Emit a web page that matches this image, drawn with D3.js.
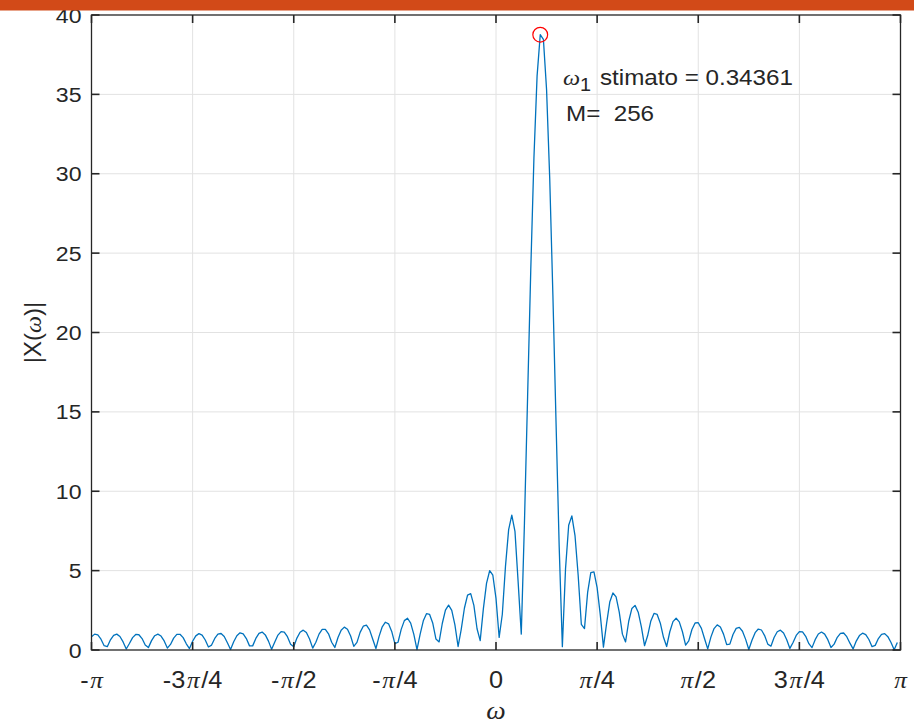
<!DOCTYPE html>
<html>
<head>
<meta charset="utf-8">
<script src="https://cdn.jsdelivr.net/npm/d3@7"></script>
<style>
body { margin: 0; background: #fff; }
svg text { font-family: "Liberation Sans", Arial, Helvetica, sans-serif; fill: #262626; }
.greek { font-family: "Liberation Serif", "DejaVu Serif", serif; font-style: italic; }
</style>
</head>
<body>
<svg id="chart" width="914" height="725"></svg>
<script>
// Number of DFT bins, the spectrum goes from -pi to pi
var M = 256;

// |X(omega)|, one value per bin (k = -128 ... 127)
var magnitude = [
    0.83, 1.00, 0.95, 0.68, 0.27, 0.21, 0.64, 0.92, 1.00, 0.85, 0.51, 0.06, 0.41, 0.78, 0.98, 0.96,
    0.72, 0.32, 0.15, 0.59, 0.90, 1.00, 0.88, 0.57, 0.12, 0.35, 0.75, 0.98, 0.99, 0.78, 0.39, 0.09,
    0.55, 0.89, 1.03, 0.94, 0.63, 0.19, 0.31, 0.73, 1.00, 1.04, 0.85, 0.46, 0.03, 0.52, 0.90, 1.08,
    1.02, 0.72, 0.26, 0.26, 0.73, 1.05, 1.13, 0.95, 0.56, 0.04, 0.50, 0.94, 1.16, 1.13, 0.84, 0.36,
    0.21, 0.75, 1.12, 1.25, 1.10, 0.69, 0.12, 0.49, 1.00, 1.30, 1.30, 1.02, 0.49, 0.16, 0.79, 1.25,
    1.44, 1.31, 0.88, 0.23, 0.48, 1.11, 1.50, 1.56, 1.27, 0.68, 0.09, 0.86, 1.46, 1.75, 1.65, 1.17,
    0.40, 0.49, 1.30, 1.85, 2.00, 1.69, 0.98, 0.02, 1.00, 1.84, 2.29, 2.24, 1.68, 0.69, 0.51, 1.67,
    2.51, 2.83, 2.50, 1.58, 0.22, 1.30, 2.63, 3.46, 3.55, 2.81, 1.34, 0.59, 2.59, 4.20, 5.00, 4.71,
    3.25, 0.79, 2.25, 5.27, 7.58, 8.49, 7.48, 4.30, 1.00, 7.99, 15.95, 23.93, 30.97, 36.15, 38.76, 38.47,
    35.31, 29.70, 22.38, 14.32, 6.48, 0.21, 5.11, 7.86, 8.45, 7.21, 4.71, 1.62, 1.35, 3.63, 4.87, 4.92,
    3.93, 2.21, 0.18, 1.68, 3.02, 3.59, 3.35, 2.39, 1.00, 0.51, 1.81, 2.62, 2.81, 2.38, 1.46, 0.27,
    0.91, 1.83, 2.30, 2.24, 1.69, 0.80, 0.22, 1.15, 1.79, 2.00, 1.77, 1.15, 0.31, 0.57, 1.29, 1.70,
    1.72, 1.36, 0.71, 0.07, 0.81, 1.35, 1.58, 1.45, 1.00, 0.34, 0.37, 0.98, 1.36, 1.43, 1.18, 0.67,
    0.03, 0.61, 1.09, 1.32, 1.26, 0.91, 0.37, 0.24, 0.79, 1.15, 1.25, 1.07, 0.65, 0.10, 0.47, 0.92,
    1.16, 1.14, 0.86, 0.40, 0.15, 0.65, 1.01, 1.13, 1.00, 0.65, 0.16, 0.37, 0.80, 1.05, 1.07, 0.84,
    0.43, 0.07, 0.56, 0.91, 1.06, 0.97, 0.66, 0.21, 0.29, 0.72, 0.98, 1.03, 0.84, 0.47, 0.01, 0.48
];

// Axis ticks
var xTickFractions = [-1, -0.75, -0.5, -0.25, 0, 0.25, 0.5, 0.75, 1];
var xTickLabels = ["-π", "-3π/4", "-π/2", "-π/4", "0", "π/4", "π/2", "3π/4", "π"];
var yTicks = [0, 5, 10, 15, 20, 25, 30, 35, 40];

// Estimated peak shown in the annotation
var omegaEstimate = 0.34361;
var peakLabel = "stimato = 0.34361";
var sizeLabel = "M=  256";


//==========================================================================
// Scales and containers.

var margin = { top: 15, right: 13.5, bottom: 75, left: 91.5 };
var width = 914 - margin.left - margin.right;
var height = 725 - margin.top - margin.bottom;

// The text in the figure is a little wider than plain Arial
var stretch = 1.1;

var svg = d3.select("#chart");

var chart = svg.append("g")
    .attr("transform", "translate(" + margin.left + "," + margin.top + ")");

var xScale = d3.scaleLinear()
    .domain([-Math.PI, Math.PI])
    .range([0, width]);

var yScale = d3.scaleLinear()
    .domain([0, 40])
    .range([height, 0]);

var bins = d3.range(M).map(function(i) {
    return { w: -Math.PI + 2 * Math.PI * i / M, mag: magnitude[i] };
});

var axisColor = "#262626";
var tickLen = 8;

function placeText(parent, x, y) {
    return parent.append("text")
        .attr("transform", "translate(" + x + "," + y + ") scale(" + stretch + ",1)");
}


//==========================================================================
// Grid.

chart.append("g")
    .selectAll("line")
    .data(xTickFractions.slice(1, -1))
    .enter()
    .append("line")
    .attr("x1", function(d) { return xScale(d * Math.PI); })
    .attr("x2", function(d) { return xScale(d * Math.PI); })
    .attr("y1", 0)
    .attr("y2", height)
    .attr("stroke", "#e2e2e2")
    .attr("stroke-width", 1);

chart.append("g")
    .selectAll("line")
    .data(yTicks.slice(1, -1))
    .enter()
    .append("line")
    .attr("x1", 0)
    .attr("x2", width)
    .attr("y1", function(d) { return yScale(d); })
    .attr("y2", function(d) { return yScale(d); })
    .attr("stroke", "#e2e2e2")
    .attr("stroke-width", 1);


//==========================================================================
// Spectrum line and peak marker.

var line = d3.line()
    .x(function(d) { return xScale(d.w); })
    .y(function(d) { return yScale(d.mag); });

chart.append("path")
    .datum(bins)
    .attr("d", line)
    .attr("fill", "none")
    .attr("stroke", "#0072bd")
    .attr("stroke-width", 1.3)
    .attr("stroke-linejoin", "round");

chart.append("circle")
    .attr("cx", xScale(omegaEstimate))
    .attr("cy", yScale(d3.max(magnitude)))
    .attr("r", 7.4)
    .attr("fill", "none")
    .attr("stroke", "#ff0000")
    .attr("stroke-width", 1.2);


//==========================================================================
// Box, ticks and tick labels.

chart.append("rect")
    .attr("x", 0)
    .attr("y", 0)
    .attr("width", width)
    .attr("height", height)
    .attr("fill", "none")
    .attr("stroke", axisColor)
    .attr("stroke-width", 1.3);

var xTicksG = chart.append("g");
xTickFractions.forEach(function(f) {
    var x = xScale(f * Math.PI);
    xTicksG.append("line")
        .attr("x1", x).attr("x2", x)
        .attr("y1", height).attr("y2", height - tickLen)
        .attr("stroke", axisColor).attr("stroke-width", 1.6);
    xTicksG.append("line")
        .attr("x1", x).attr("x2", x)
        .attr("y1", 0).attr("y2", tickLen)
        .attr("stroke", axisColor).attr("stroke-width", 1.6);
});

var yTicksG = chart.append("g");
yTicks.forEach(function(v) {
    var y = yScale(v);
    yTicksG.append("line")
        .attr("x1", 0).attr("x2", tickLen)
        .attr("y1", y).attr("y2", y)
        .attr("stroke", axisColor).attr("stroke-width", 1.6);
    yTicksG.append("line")
        .attr("x1", width).attr("x2", width - tickLen)
        .attr("y1", y).attr("y2", y)
        .attr("stroke", axisColor).attr("stroke-width", 1.6);
});

// x tick labels: the pi glyph is drawn in a serif italic face with a bit of room
xTickLabels.forEach(function(label, i) {
    var t = placeText(chart, xScale(xTickFractions[i] * Math.PI), height + 38)
        .attr("text-anchor", "middle")
        .style("font-size", "23px");
    var parts = label.split("π");
    parts.forEach(function(p, j) {
        if (p) t.append("tspan").attr("dx", j > 0 ? 1.5 : 0).text(p);
        if (j < parts.length - 1) {
            t.append("tspan").attr("class", "greek").attr("dx", p ? 1.5 : 0).text("π");
        }
    });
});

yTicks.forEach(function(v) {
    placeText(chart, -10, yScale(v))
        .attr("dy", "0.36em")
        .attr("text-anchor", "end")
        .style("font-size", "21px")
        .text(v);
});


//==========================================================================
// Axis titles and annotation.

placeText(svg, margin.left + xScale(0), 719)
    .attr("text-anchor", "middle")
    .attr("class", "greek")
    .style("font-size", "25px")
    .text("ω");

var yTitle = svg.append("text")
    .attr("transform", "translate(41," + (margin.top + height / 2) + ") rotate(-90)")
    .attr("text-anchor", "middle")
    .style("font-size", "24px");
yTitle.append("tspan").text("|X(");
yTitle.append("tspan").attr("class", "greek").text("ω");
yTitle.append("tspan").text(")|");

var omegaSym = placeText(svg, 563, 85)
    .style("font-size", "22px");
omegaSym.append("tspan").attr("class", "greek").text("ω");
omegaSym.append("tspan").attr("dy", 6).style("font-size", "18px").text("1");

placeText(svg, 600, 85)
    .style("font-size", "22px")
    .text(peakLabel);

placeText(svg, 566, 121)
    .style("font-size", "22px")
    .style("white-space", "pre")
    .text(sizeLabel);

// Orange header band over the top of the figure
svg.append("rect")
    .attr("x", 0)
    .attr("y", 0)
    .attr("width", 914)
    .attr("height", 10.5)
    .attr("fill", "#d24a18");
</script>
</body>
</html>
